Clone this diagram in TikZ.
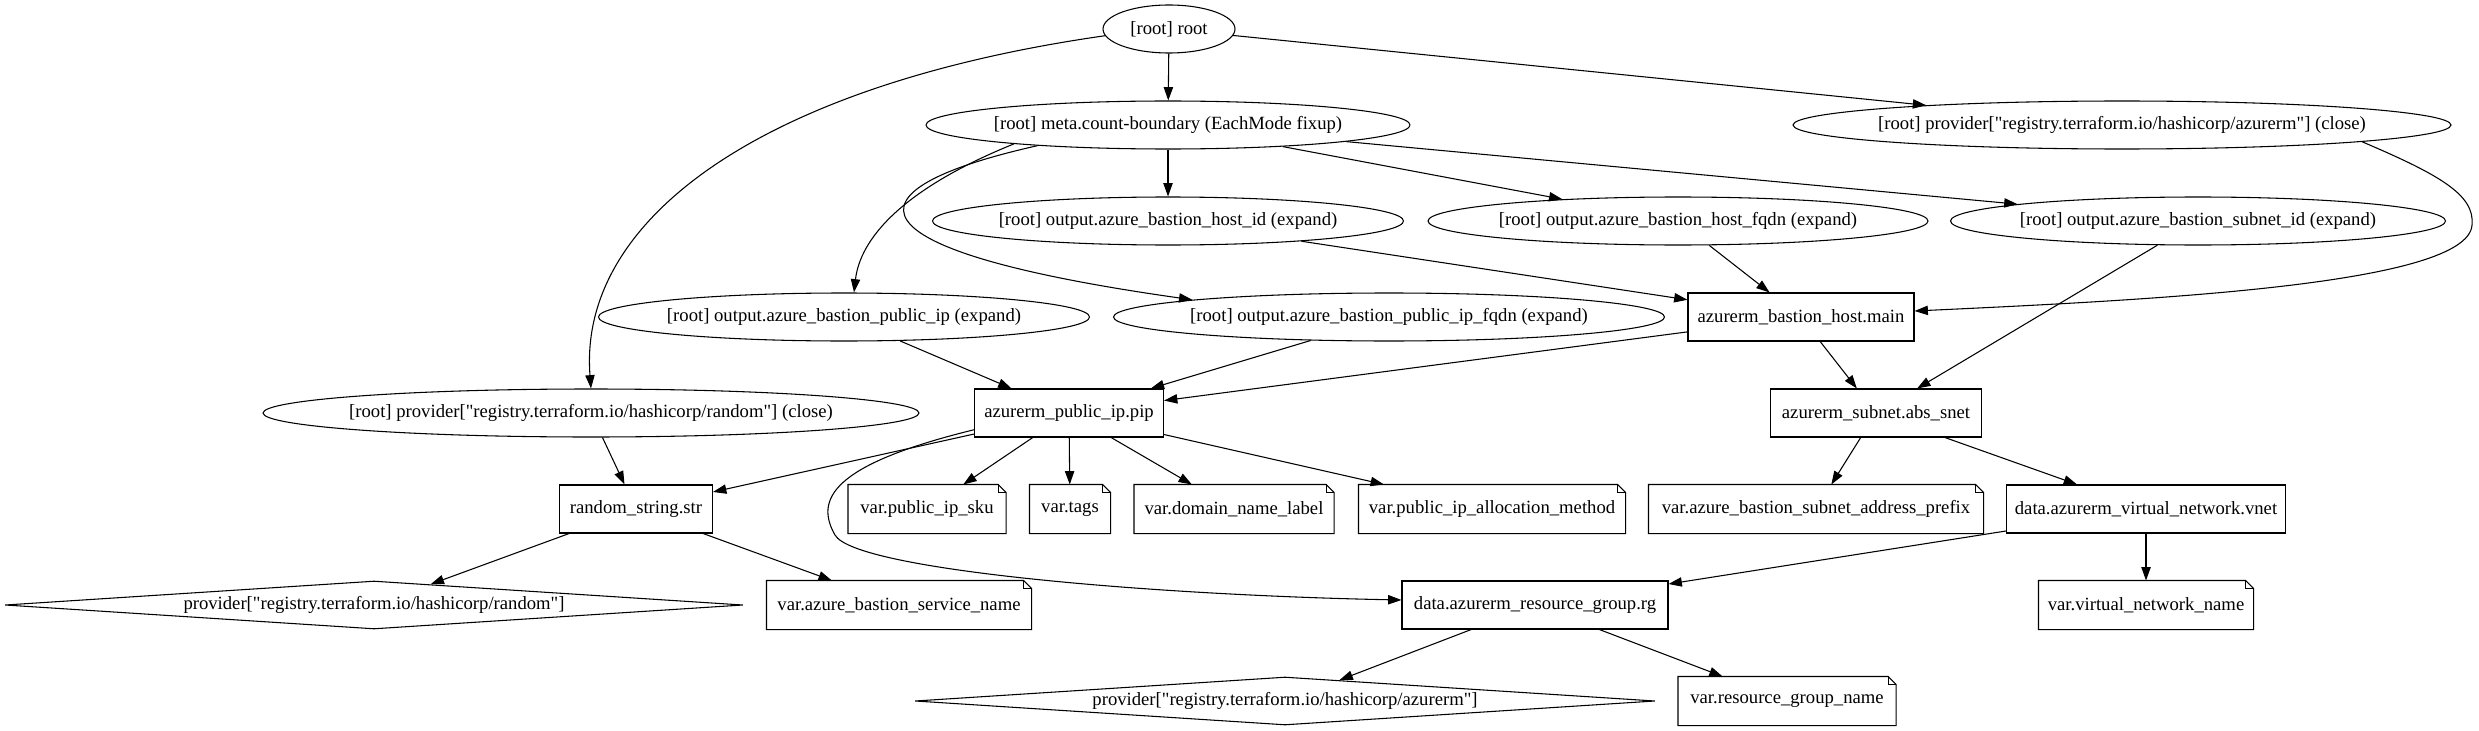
\documentclass[tikz,border=0pt]{standalone}
\usepackage{fontspec}
\setmainfont{Liberation Serif}
\usetikzlibrary{arrows.meta,shapes.geometric}
\tikzset{
    >={Triangle[length=10pt,width=7pt]},
    ell/.style={ellipse, draw, minimum width=#1*0.75pt, minimum height=36pt, inner sep=0pt},
    res/.style={rectangle, draw, minimum width=#1*0.75pt, minimum height=36pt, inner sep=0pt},
    varnote/.style={rectangle, minimum width=#1*0.75pt, minimum height=36pt, inner sep=0pt},
    prov/.style={diamond, draw, minimum width=#1*0.75pt, minimum height=36pt, inner sep=0pt}
}
\newcommand{\tx}[1]{\makebox[0pt]{#1}}
\newcommand{\qq}{\textquotedbl}

\begin{document}
\begin{tikzpicture}[x=0.75pt, y=-0.75pt, line width=0.8pt, font=\fontsize{14}{17}\selectfont]
    \useasboundingbox (0,0) rectangle (2479,731);

    % Draw root, meta and output nodes.
    \node[ell=132] (root) at (1169,29) {\tx{[root] root}};
    \node[ell=484] (meta) at (1168,125) {\tx{[root] meta.count-boundary (EachMode fixup)}};
    \node[ell=658] (azclose) at (2122,125) {\tx{[root] provider[\qq registry.terraform.io/hashicorp/azurerm\qq] (close)}};
    \node[ell=471] (hostid) at (1168,221) {\tx{[root] output.azure\_bastion\_host\_id (expand)}};
    \node[ell=500] (hostfqdn) at (1678,221) {\tx{[root] output.azure\_bastion\_host\_fqdn (expand)}};
    \node[ell=495] (subnetid) at (2198,221) {\tx{[root] output.azure\_bastion\_subnet\_id (expand)}};
    \node[ell=491] (pubip) at (844,317) {\tx{[root] output.azure\_bastion\_public\_ip (expand)}};
    \node[ell=551] (pubipfqdn) at (1389,317) {\tx{[root] output.azure\_bastion\_public\_ip\_fqdn (expand)}};
    \node[ell=656] (randclose) at (591,413) {\tx{[root] provider[\qq registry.terraform.io/hashicorp/random\qq] (close)}};

    % Draw resources and data sources.
    \node[res=226] (hostmain) at (1801,317) {\tx{azurerm\_bastion\_host.main}};
    \node[res=189] (pip) at (1069,413) {\tx{azurerm\_public\_ip.pip}};
    \node[res=211] (snet) at (1876,413) {\tx{azurerm\_subnet.abs\_snet}};
    \node[res=153] (randstr) at (636,509) {\tx{random\_string.str}};
    \node[res=279] (vnet) at (2146,509) {\tx{data.azurerm\_virtual\_network.vnet}};
    \node[res=266] (rg) at (1535,605) {\tx{data.azurerm\_resource\_group.rg}};

    % Draw variables.
    \foreach \n/\x/\y/\w/\t in {sku/927/509/157/var.public\_ip\_sku,
            tags/1070/509/80/var.tags,
            domain/1234/509/199/var.domain\_name\_label,
            alloc/1492/509/266/var.public\_ip\_allocation\_method,
            prefix/1816/509/334/var.azure\_bastion\_subnet\_address\_prefix,
            svcname/899/605/264/var.azure\_bastion\_service\_name,
            vnetname/2146/605/214/var.virtual\_network\_name,
            rgname/1787/701/217/var.resource\_group\_name}
        \node[varnote=\w] (\n) at (\x,\y) {\tx{\t}};
    \foreach \n in {sku,tags,domain,alloc,prefix,svcname,vnetname,rgname}
    {
        \draw ([xshift=-6pt]\n.north east) -- (\n.north west) -- (\n.south west)
            -- (\n.south east) -- ([yshift=-6pt]\n.north east) -- cycle;
        \draw ([xshift=-6pt]\n.north east) |- ([yshift=-6pt]\n.north east);
    }

    % Draw providers.
    \node[prov=738] (provrand) at (374,605) {\tx{provider[\qq registry.terraform.io/hashicorp/random\qq]}};
    \node[prov=740] (provaz) at (1285,701) {\tx{provider[\qq registry.terraform.io/hashicorp/azurerm\qq]}};

    % Draw straight dependencies.
    \foreach \a/\b in {root/meta, root/azclose, meta/hostid, meta/hostfqdn, meta/subnetid,
            hostid/hostmain, hostfqdn/hostmain, subnetid/snet, hostmain/pip, hostmain/snet,
            pubip/pip, pubipfqdn/pip, randclose/randstr, pip/randstr, pip/sku, pip/tags,
            pip/domain, pip/alloc, randstr/provrand, randstr/svcname, snet/prefix,
            snet/vnet, vnet/rg, vnet/vnetname, rg/provaz, rg/rgname}
        \draw[->] (\a) -- (\b);

    % Draw curved dependencies.
    \draw[->] (root.186) .. controls (760,85) and (578,220) .. (randclose.north);
    \draw[->] (meta.187) .. controls (900,190) and (860,240) .. ([xshift=7.5pt]pubip.north);
    \draw[->] (meta.189) .. controls (840,190) and (840,250) .. (pubipfqdn.175);
    \draw[->] (azclose.-4.4) .. controls (2440,175) and (2475,195) .. (2472,225)
        .. controls (2468,285) and (2150,300) .. ([yshift=4.5pt]hostmain.east);
    \draw[->] (pip.190) .. controls (830,465) and (815,500) .. (835,535)
        .. controls (855,570) and (1150,595) .. ([yshift=3.75pt]rg.west);
\end{tikzpicture}
\end{document}
